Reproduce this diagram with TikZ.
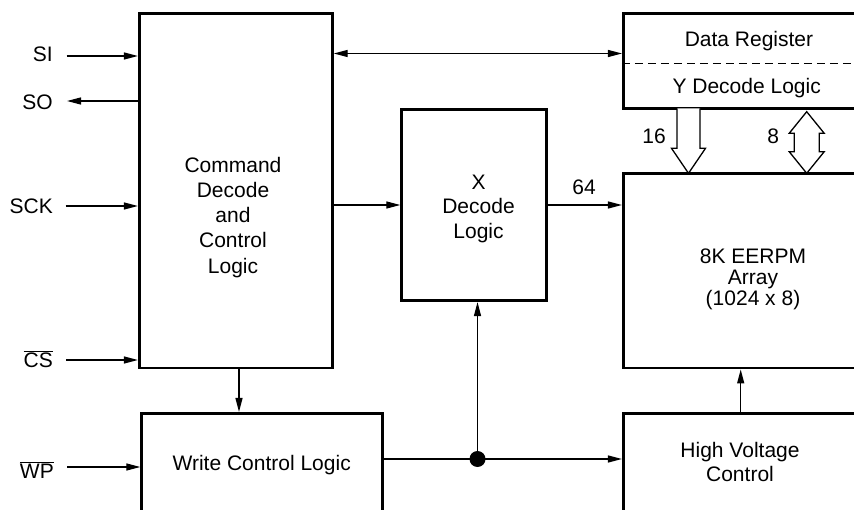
\documentclass[tikz,border=0pt]{standalone}
\usepackage{fontspec}
\setmainfont{Liberation Sans}
\usetikzlibrary{arrows.meta}
\newcommand{\ovl}[1]{$\overline{\hbox{#1}}$}
\begin{document}
\begin{tikzpicture}[x=1pt,y=-1pt,
  box/.style={draw, line width=2.8pt, inner sep=0pt},
  lbl/.style={font=\fontsize{21}{24}\selectfont, align=center, inner sep=0pt},
  conn/.style={line width=1.3pt, -{Triangle[length=14pt,width=7pt]}},
  dconn/.style={line width=1.3pt, {Triangle[length=14pt,width=7pt]}-{Triangle[length=14pt,width=7pt]}},
  hollow/.style={line width=1.3pt, fill=white, line join=miter},
  sep/.style={line width=1.3pt, dash pattern=on 8pt off 5pt}
]
\useasboundingbox (0,0) rectangle (854,510);
\fill[white] (0,0) rectangle (854,510);
\begin{scope}
\clip (0,0) rectangle (854,510);
\node[box, minimum width=193pt, minimum height=354.7pt] (cmd) at (235.8,190.7) {};
\node[box, minimum width=240.6pt, minimum height=116.7pt] (wcl) at (262,471.7) {};
\node[box, minimum width=145pt, minimum height=191.4pt] (xdec) at (474.2,205) {};
\node[box, minimum width=234.7pt, minimum height=95pt] (dreg) at (740.7,60.8) {};
\node[box, minimum width=234.7pt, minimum height=194.7pt] (arr) at (740.7,270.7) {};
\node[box, minimum width=234.7pt, minimum height=116.7pt] (hv) at (740.7,471.7) {};
\draw[sep] (dreg.west |- 0,63.3) -- (dreg.east |- 0,63.3);
\end{scope}

% texts
\node[lbl, anchor=north, font=\fontsize{21}{25.25}\selectfont] (tcmd) at (233,156.7) {Command\\Decode\\and\\Control\\Logic};
\node[lbl, anchor=north, font=\fontsize{21}{24.2}\selectfont] (txdec) at (478.5,175) {X\\Decode\\Logic};
\node[lbl, anchor=north, font=\fontsize{21}{21}\selectfont] (tarr) at (753,248.3) {8K EERPM\\Array\\(1024 x 8)};
\node[lbl, anchor=north, font=\fontsize{21}{24.3}\selectfont] (thv) at (740,441.7) {High Voltage\\Control};
\node[lbl, anchor=base] (tdreg) at (749,46.7) {Data Register};
\node[lbl, anchor=base] (tydec) at (746.7,94) {Y Decode Logic};
\node[lbl, anchor=base] (twcl) at (261.7,470) {Write Control Logic};

% left pins
\node[lbl, anchor=base east] (si) at (53,61.7) {SI};
\node[lbl, anchor=base east] (so) at (53,110) {SO};
\node[lbl, anchor=base east] (sck) at (53,214) {SCK};
\node[lbl, anchor=base east] (cs) at (53,367.7) {\ovl{CS}};
\node[lbl, anchor=base east] (wp) at (54,478.5) {\ovl{WP}};
\coordinate (siin) at (66.7,56);
\coordinate (soout) at (67,101);
\coordinate (sckin) at (65.5,206);
\coordinate (csin) at (66,360);
\coordinate (wpin) at (67,467);
\draw[conn] (siin) -- (siin -| cmd.west);
\draw[conn] (soout -| cmd.west) -- (soout);
\draw[conn] (sckin) -- (sckin -| cmd.west);
\draw[conn] (csin) -- (csin -| cmd.west);
\draw[conn] (wpin) -- (wpin -| wcl.west);

% internal connectors
\draw[dconn] (cmd.east |- 0,53.5) -- (dreg.west |- 0,53.5);
\draw[conn] (cmd.east |- xdec.west) -- (xdec.west);
\draw[conn] (xdec.east) -- (xdec.east -| arr.west);
\node[lbl, anchor=base] (l64) at (584,195) {64};
\draw[conn] (cmd.south -| 239,0) -- (wcl.north -| 239,0);
\coordinate (j) at (477.5,459);
\draw[conn] (wcl.east |- j) -- (hv.west |- j);
\draw[conn] (j) -- (j |- xdec.south);
\fill (j) circle (8);
\draw[conn] (hv.north) -- (arr.south);

% wide bus arrows
\draw[hollow] (677,108.3) -- (677,148.3) -- (671.5,148.3) -- (688.5,173.3) -- (705.5,148.3) -- (700,148.3) -- (700,108.3);
\node[lbl, anchor=base] (l16) at (654,144) {16};
\draw[hollow] (806.7,111.7) -- (824.2,133.3) -- (819.2,133.3) -- (819.2,151.7) -- (824.2,151.7) -- (806.7,173.3) -- (789.2,151.7) -- (794.2,151.7) -- (794.2,133.3) -- (789.2,133.3) -- cycle;
\node[lbl, anchor=base] (l8) at (773.3,144) {8};
\end{tikzpicture}
\end{document}
